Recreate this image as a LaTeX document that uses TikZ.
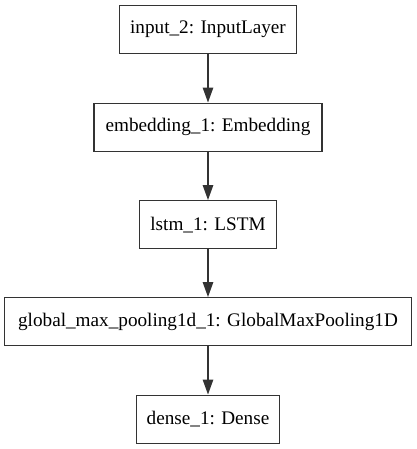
\documentclass[tikz,border=0pt]{standalone}
\usepackage{fontspec}
\setmainfont{Liberation Serif}
\usetikzlibrary{arrows.meta}
\begin{document}
\begin{tikzpicture}[x=1pt,y=-1pt,
  layer/.style={draw=black!80,line width=1.3pt,rectangle,minimum height=48pt,inner sep=0pt,
    font=\fontsize{19.2}{22}\selectfont},
  conn/.style={draw=black!80,line width=1.3pt,-{Triangle[length=15pt,width=10.5pt]}}]
\useasboundingbox (0,0) rectangle (416,449);
\node[layer,minimum width=177pt] (in) at (208,29.7) {input\_2: InputLayer};
\node[layer,minimum width=228pt] (emb) at (208,127.2) {embedding\_1: Embedding};
\node[layer,minimum width=137pt] (lstm) at (208,224.7) {lstm\_1: LSTM};
\node[layer,minimum width=406.7pt] (gmp) at (208,321.7) {global\_max\_pooling1d\_1: GlobalMaxPooling1D};
\node[layer,minimum width=143.3pt] (dense) at (208,419.2) {dense\_1: Dense};
\draw[conn] (in) -- (emb);
\draw[conn] (emb) -- (lstm);
\draw[conn] (lstm) -- (gmp);
\draw[conn] (gmp) -- (dense);
\end{tikzpicture}
\end{document}
